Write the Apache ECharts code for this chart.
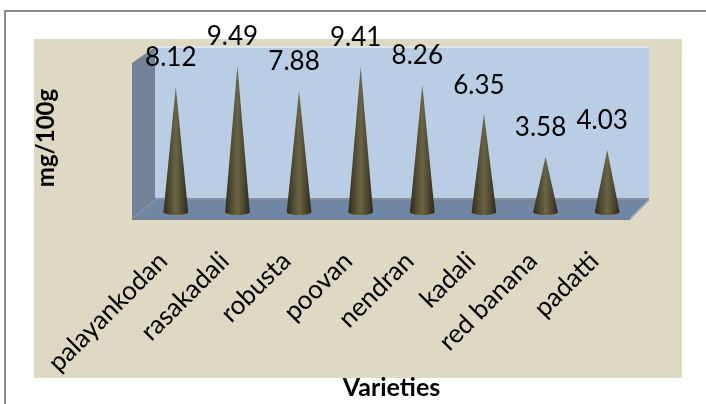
<!DOCTYPE html>
<html>
<head>
<meta charset="utf-8">
<script src="https://cdn.jsdelivr.net/npm/echarts@6/dist/echarts.min.js"></script>
<style>
  html, body { margin: 0; padding: 0; background: #ffffff; }
  #chart { width: 706px; height: 404px; }
</style>
</head>
<body>
<div id="chart"></div>
<script>
// Banana varieties and measured content (mg/100g)
const varieties = ['palayankodan', 'rasakadali', 'robusta', 'poovan', 'nendran', 'kadali', 'red banana', 'padatti'];
const contentValues = [8.12, 9.49, 7.88, 9.41, 8.26, 6.35, 3.58, 4.03];
const yAxisTitle = 'mg/100g';
const xAxisTitle = 'Varieties';

const FONT = 'Lato, "Open Sans", "DejaVu Sans", sans-serif';

// plot frame (pixels) used for the decorative 3D walls
const GRID = { left: 145, right: 68, top: 58, bottom: 192 };

const coneFill = {
  type: 'linear', x: 0, y: 0, x2: 1, y2: 0,
  colorStops: [
    { offset: 0, color: '#2f2c1b' },
    { offset: 0.25, color: '#4f4a31' },
    { offset: 0.5, color: '#6a6444' },
    { offset: 0.75, color: '#4e4930' },
    { offset: 1, color: '#2b281a' }
  ]
};

const chart = echarts.init(document.getElementById('chart'), null, { renderer: 'canvas' });

chart.setOption({
  animation: false,
  backgroundColor: '#ffffff',
  graphic: [
    // outer frame lines
    { type: 'rect', z: -20, shape: { x: 4, y: 10, width: 720, height: 2 }, style: { fill: '#8c8c8c' } },
    { type: 'rect', z: -20, shape: { x: 4, y: 10, width: 2, height: 420 }, style: { fill: '#8c8c8c' } },
    // chart area fill
    { type: 'rect', z: -19, shape: { x: 34, y: 39, width: 648, height: 339 }, style: { fill: '#ddd9c3' } },
    // back wall
    { type: 'rect', z: -18, shape: { x: 155, y: 47, width: 494, height: 153 }, style: { fill: '#b9cde5' } },
    { type: 'rect', z: -17, shape: { x: 155, y: 46, width: 494, height: 2 }, style: { fill: '#dbe6f2' } },
    // side wall
    { type: 'polygon', z: -17, shape: { points: [[132, 63], [155, 47], [155, 200], [132, 220]] }, style: { fill: '#748297' } },
    // floor
    { type: 'polygon', z: -16, shape: { points: [[155, 199], [649, 199], [630, 218], [132, 218]] }, style: { fill: '#6f87a4' } },
    { type: 'rect', z: -15, shape: { x: 155, y: 198, width: 494, height: 2 }, style: { fill: '#8a8e96' } },
    { type: 'rect', z: -15, shape: { x: 132, y: 218, width: 498, height: 2 }, style: { fill: '#7f7f7f' } },
    { type: 'line', z: -15, shape: { x1: 133, y1: 218, x2: 155, y2: 200 }, style: { stroke: '#8aa0b8', lineWidth: 1 } },
    { type: 'line', z: -15, shape: { x1: 630, y1: 219, x2: 649, y2: 200 }, style: { stroke: '#9aa2ad', lineWidth: 1.5 } }
  ],
  grid: {
    left: GRID.left, right: GRID.right, top: GRID.top, bottom: GRID.bottom,
    containLabel: false,
    outerBoundsMode: 'none'
  },
  xAxis: {
    type: 'category',
    data: varieties,
    axisLine: { show: false },
    axisTick: { show: false },
    axisLabel: {
      interval: 0,
      rotate: 45,
      margin: 32,
      padding: [0, 18, 0, 0],
      color: '#000000',
      fontFamily: FONT,
      fontSize: 26
    },
    name: xAxisTitle,
    nameLocation: 'middle',
    nameGap: 163,
    nameMoveOverlap: false,
    nameTextStyle: { color: '#000000', fontFamily: FONT, fontSize: 25, fontWeight: 'bold' }
  },
  yAxis: {
    type: 'value',
    min: 0,
    max: 10,
    axisLine: { show: false },
    axisTick: { show: false },
    axisLabel: { show: false },
    splitLine: { show: false },
    name: yAxisTitle,
    nameLocation: 'middle',
    nameRotate: 90,
    nameGap: 87,
    nameMoveOverlap: false,
    nameTextStyle: { color: '#000000', fontFamily: FONT, fontSize: 24, fontWeight: 'bold', padding: [0, 6, 0, 0] }
  },
  series: [{
    type: 'custom',
    data: contentValues.map((v, i) => [i, v]),
    encode: { x: 0, y: 1 },
    renderItem: function (params, api) {
      const idx = api.value(0);
      const val = api.value(1);
      const top = api.coord([idx, val]);
      const base = api.coord([idx, 0]);
      const band = api.size([1, 0])[0];
      const w = band * 0.4;
      const x = base[0];
      const y0 = base[1];
      return {
        type: 'group',
        children: [
          {
            type: 'polygon',
            shape: { points: [[x - w / 2, y0], [x, top[1]], [x + w / 2, y0]] },
            style: { fill: coneFill }
          },
          {
            type: 'ellipse',
            shape: { cx: x, cy: y0, rx: w / 2, ry: 3 },
            style: { fill: coneFill }
          },
          {
            type: 'text',
            style: {
              x: x - 5,
              y: top[1] - 29,
              text: String(val),
              align: 'center',
              verticalAlign: 'middle',
              fill: '#000000',
              font: '26px ' + FONT
            }
          }
        ]
      };
    }
  }]
});
</script>
</body>
</html>
